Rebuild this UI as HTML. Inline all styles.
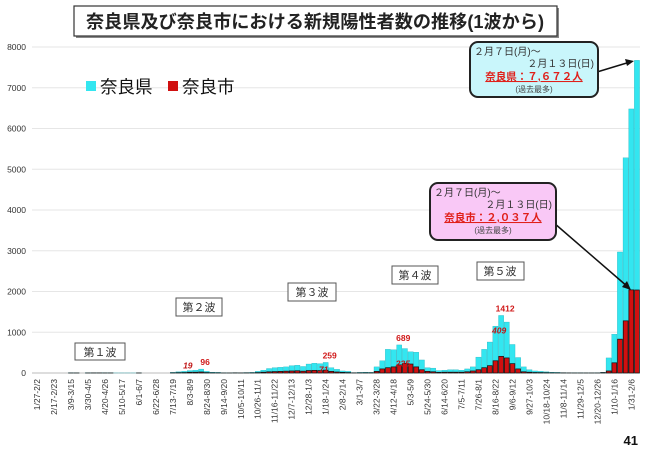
<!DOCTYPE html>
<html><head><meta charset="utf-8"><style>
body{margin:0;background:#fff;}
svg{display:block;font-family:"Liberation Sans","Noto Sans CJK JP",sans-serif;}
</style></head><body>
<svg id="c" width="650" height="449" viewBox="0 0 650 449" xmlns="http://www.w3.org/2000/svg">
<g id="grid"></g>
<g id="yt"></g>
<g id="bars"></g>
<g id="xt"></g>
<g id="vals"></g>

<g>
<rect x="76" y="8" width="483" height="30" fill="#888"/>
<rect x="74" y="6" width="483" height="30" fill="#fff" stroke="#333" stroke-width="1.2"/>
<text x="315" y="28" text-anchor="middle" font-size="18" font-weight="bold" fill="#222" textLength="458" lengthAdjust="spacingAndGlyphs">奈良県及び奈良市における新規陽性者数の推移(1波から)</text>
</g>
<g>
<rect x="86" y="81" width="10" height="10" fill="#33e6f0"/>
<text x="100" y="93" font-size="17.5" fill="#111">奈良県</text>
<rect x="168" y="81" width="10" height="10" fill="#d01010"/>
<text x="182" y="93" font-size="17.5" fill="#111">奈良市</text>
</g>
<g font-size="11" fill="#333">
<rect x="75" y="343" width="50" height="17" fill="#fff" stroke="#555"/><text x="100" y="356" text-anchor="middle">第１波</text>
<rect x="176" y="298" width="46" height="18" fill="#fff" stroke="#555"/><text x="199" y="311" text-anchor="middle">第２波</text>
<rect x="288" y="283" width="48" height="18" fill="#fff" stroke="#555"/><text x="312" y="296" text-anchor="middle">第３波</text>
<rect x="392" y="266" width="46" height="18" fill="#fff" stroke="#555"/><text x="415" y="279" text-anchor="middle">第４波</text>
<rect x="477" y="262" width="47" height="18" fill="#fff" stroke="#555"/><text x="500" y="275" text-anchor="middle">第５波</text>
</g>
<g>
<line x1="597" y1="72" x2="630" y2="62" stroke="#111" stroke-width="1.5"/>
<polygon points="634,61 625,59 627,66" fill="#111"/>
<rect x="470" y="42" width="128" height="55" rx="8" fill="#c9f6fb" stroke="#222" stroke-width="2"/>
<text x="474" y="55" font-size="10" fill="#333">２月７日(月)～</text>
<text x="594" y="67" font-size="10" fill="#333" text-anchor="end">２月１３日(日)</text>
<text x="534" y="80" font-size="10.5" font-weight="bold" fill="#e0201a" text-anchor="middle" text-decoration="underline">奈良県：７,６７２人</text>
<text x="534" y="92" font-size="8" fill="#444" text-anchor="middle">(過去最多)</text>
</g>
<g>
<line x1="554" y1="223" x2="628" y2="287" stroke="#111" stroke-width="1.5"/>
<polygon points="631,290 622,287 627,281" fill="#111"/>
<rect x="430" y="183" width="126" height="57" rx="8" fill="#f9c8f6" stroke="#222" stroke-width="2"/>
<text x="434" y="196" font-size="10" fill="#333">２月７日(月)～</text>
<text x="552" y="208" font-size="10" fill="#333" text-anchor="end">２月１３日(日)</text>
<text x="493" y="221" font-size="10.5" font-weight="bold" fill="#e0201a" text-anchor="middle" text-decoration="underline">奈良市：２,０３７人</text>
<text x="493" y="233" font-size="8" fill="#444" text-anchor="middle">(過去最多)</text>
</g>
<text x="638" y="445" font-size="13" font-weight="bold" text-anchor="end" fill="#111">41</text>
</svg>
<script>
const weekLabels=["1/27-2/2","2/17-2/23","3/9-3/15","3/30-4/5","4/20-4/26","5/10-5/17","6/1-6/7","6/22-6/28","7/13-7/19","8/3-8/9","8/24-8/30","9/14-9/20","10/5-10/11","10/26-11/1","11/16-11/22","12/7-12/13","12/28-1/3","1/18-1/24","2/8-2/14","3/1-3/7","3/22-3/28","4/12-4/18","5/3-5/9","5/24-5/30","6/14-6/20","7/5-7/11","7/26-8/1","8/16-8/22","9/6-9/12","9/27-10/3","10/18-10/24","11/8-11/14","11/29-12/5","12/20-12/26","1/10-1/16","1/31-2/6"];
const yTicks=[0,1000,2000,3000,4000,5000,6000,7000,8000];
const naraPref=[0,0,0,0,0,0,5,3,0,5,8,8,6,4,1,1,1,1,3,0,0,0,0,0,15,30,40,60,70,96,40,20,15,5,3,10,8,12,15,40,70,110,130,140,150,180,190,160,220,240,230,259,130,90,50,40,10,15,20,15,150,300,580,570,689,600,520,510,320,130,120,60,70,80,80,70,100,150,390,580,760,1150,1412,1250,700,380,150,80,50,40,30,20,15,10,8,5,5,3,3,5,15,370,950,2970,5280,6480,7672];
const naraCity=[0,0,0,0,0,0,1,1,0,1,2,2,1,1,0,0,0,0,1,0,0,0,0,0,4,8,10,19,20,25,10,5,4,1,1,3,2,3,4,10,20,30,35,40,45,50,55,45,60,65,60,71,40,25,15,10,3,4,5,5,40,100,130,150,200,235,220,150,80,40,30,15,20,20,20,20,30,50,80,130,180,300,409,370,230,100,30,20,12,10,8,5,4,3,2,1,1,1,1,1,10,50,250,830,1280,2040,2037];
const prefLabels=[[29,"96"],[51,"259"],[64,"689"],[82,"1412"]];
const cityLabels=[[27,"19"],[51,"71"],[65,"235"],[82,"409"]];

const NS="http://www.w3.org/2000/svg";
const X0=37,STEP=5.66,Y0=373,YMAX=8000,YTOP=47;
const xs=i=>X0+i*STEP;
const ys=v=>Y0-(v/YMAX)*(Y0-YTOP);
function mk(tag,attrs,parent,txt){const e=document.createElementNS(NS,tag);for(const k in attrs)e.setAttribute(k,attrs[k]);if(txt!==undefined)e.textContent=txt;parent.appendChild(e);return e;}
const grid=document.getElementById('grid'),yt=document.getElementById('yt'),bars=document.getElementById('bars'),xt=document.getElementById('xt'),vals=document.getElementById('vals');
yTicks.forEach(t=>{
  const l=mk('line',{x1:32,x2:640,y1:ys(t),y2:ys(t),stroke:t===0?'#bbb':'#e6e6e6','stroke-width':1},grid);
  
  
  const tx=mk('text',{x:26,y:ys(t)+3,'font-size':8.5,'text-anchor':'end',fill:'#333'},yt,String(t));
  
  
});
naraPref.forEach((v,i)=>{
  const r=mk('rect',{x:xs(i)-2.6,y:ys(v),width:5.2,height:Y0-ys(v),fill:'#33e6f0',stroke:'#1aaab5','stroke-width':0.3},bars);
  
  
});
naraCity.forEach((v,i)=>{
  const r=mk('rect',{x:xs(i)-2.4,y:ys(v),width:4.8,height:Y0-ys(v),fill:'#d01010',stroke:'#111','stroke-width':0.7},bars);
  
  
});
weekLabels.forEach((s,k)=>{
  const x=xs(k*3)+3;
  const t=mk('text',{x:x,y:379,'font-size':8.5,'text-anchor':'end',fill:'#333',transform:`rotate(-90 ${x} 379)`},xt,s);
  
  
});
prefLabels.forEach(([i,s])=>{
  const t=mk('text',{x:xs(i)+4,y:ys(naraPref[i])-4,'font-size':8.5,'font-weight':'bold','text-anchor':'middle',fill:'#d01818'},vals,s);
  
  
});
cityLabels.forEach(([i,s])=>{
  const t=mk('text',{x:xs(i)-2,y:ys(naraPref[i])+(i===27?-2:(i===51?10:18)),'font-size':8.5,'font-weight':'bold','font-style':'italic','text-anchor':'middle',fill:'#c01818'},vals,s);
  
  
});
</script>
</body></html>
